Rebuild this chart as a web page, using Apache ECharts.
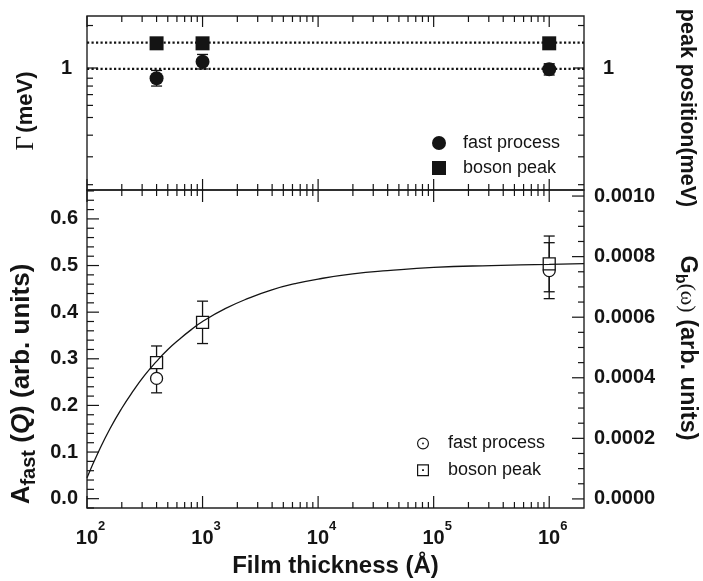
<!DOCTYPE html>
<html><head><meta charset="utf-8">
<script src="https://cdn.jsdelivr.net/npm/echarts@6.0.0/dist/echarts.min.js"></script>
<style>html,body{margin:0;padding:0;background:#fff}#c{width:703px;height:581px}</style>
</head><body><div id="c"></div>
<script>
// ---------- data ----------
const thicknessTop = [400, 1000, 1000000];
const fastGamma = [0.899, 1.067, 0.987];
const fastGammaLow = [0.83, 0.99, 0.93];
const fastGammaHigh = [0.975, 1.15, 1.045];
const bosonPeakPos = [1.29, 1.29, 1.29];
const guideLevels = [1.30, 0.99];
const guideSpan = [100, 2000000];

const fitThickness = [100, 126, 158, 200, 251, 316, 398, 501, 631, 794, 1000, 1585, 2512, 3981, 6310, 10000, 19953, 39811, 100000, 316228, 1000000, 2000000];
const fitA = [0.045, 0.101, 0.150, 0.194, 0.231, 0.265, 0.294, 0.320, 0.342, 0.362, 0.380, 0.408, 0.430, 0.448, 0.461, 0.471, 0.482, 0.489, 0.496, 0.500, 0.5025, 0.504];

const thicknessFast = [400, 1000000];
const fastA = [0.258, 0.489];
const fastAErr = [0.031, 0.06];
const thicknessBoson = [400, 1000, 1000000];
const bosonG = [0.000450, 0.000583, 0.000776];
const bosonGErr = [0.000055, 0.00007, 0.000092];

// ticks
const xMajorTicks = [100, 1000, 10000, 100000, 1000000];
const xMinorTicks = [];
[100, 1000, 10000, 100000].forEach(d => { for (let k = 2; k <= 9; k++) xMinorTicks.push(k * d); });
const gammaMajorTicks = [1];
const gammaMinorTicks = [1.55, 0.9, 0.83, 0.76, 0.68, 0.6, 0.5, 0.4, 0.3];
const aMajorTicks = [0, 0.1, 0.2, 0.3, 0.4, 0.5, 0.6];
const aMinorTicks = [];
for (let i = -1; i <= 33; i++) { if (i % 5 !== 0) aMinorTicks.push(+(i * 0.02).toFixed(2)); }
const gMajorTicks = [0, 0.0002, 0.0004, 0.0006, 0.0008, 0.001];
const gMinorTicks = [];
for (let i = 0; i <= 20; i++) { if (i % 4 !== 0) gMinorTicks.push(+(i * 0.00005).toFixed(5)); }

// ---------- style ----------
const INK = '#141414';
const SANS = 'Liberation Sans, Arial, Helvetica, sans-serif';
const SERIF = 'Liberation Serif, Times New Roman, serif';

const chart = echarts.init(document.getElementById('c'), null, {renderer: 'canvas'});

function tickRender(kind, len) {
  return function (params, api) {
    const cs = params.coordSys;
    const p = api.coord([api.value(0), api.value(1)]);
    const st = {stroke: INK, lineWidth: 1.2};
    if (kind === 'x') {
      return {type: 'group', children: [
        {type: 'line', shape: {x1: p[0], y1: cs.y, x2: p[0], y2: cs.y + len}, style: st},
        {type: 'line', shape: {x1: p[0], y1: cs.y + cs.height, x2: p[0], y2: cs.y + cs.height - len}, style: st}
      ]};
    }
    if (kind === 'left') return {type: 'line', shape: {x1: cs.x, y1: p[1], x2: cs.x + len, y2: p[1]}, style: st};
    return {type: 'line', shape: {x1: cs.x + cs.width, y1: p[1], x2: cs.x + cs.width - len, y2: p[1]}, style: st};
  };
}
function tickSeries(xi, yi, data, kind, len) {
  return {type: 'custom', xAxisIndex: xi, yAxisIndex: yi, data: data, renderItem: tickRender(kind, len),
    silent: true, z: 10, clip: false, encode: {x: 0, y: 1}, tooltip: {show: false}};
}
function errRender(params, api) {
  const x = api.value(0), lo = api.value(1), hi = api.value(2);
  const a = api.coord([x, lo]), b = api.coord([x, hi]);
  const w = 5.5, st = {stroke: INK, lineWidth: 1.3};
  return {type: 'group', children: [
    {type: 'line', shape: {x1: a[0], y1: a[1], x2: b[0], y2: b[1]}, style: st},
    {type: 'line', shape: {x1: a[0] - w, y1: a[1], x2: a[0] + w, y2: a[1]}, style: st},
    {type: 'line', shape: {x1: b[0] - w, y1: b[1], x2: b[0] + w, y2: b[1]}, style: st}
  ]};
}
function errSeries(xi, yi, xs, lo, hi) {
  return {type: 'custom', xAxisIndex: xi, yAxisIndex: yi, silent: true, z: 2, clip: false,
    data: xs.map((x, i) => [x, lo[i], hi[i]]), renderItem: errRender, encode: {x: 0, y: [1, 2]}};
}

const isPow10 = v => Math.abs(Math.log10(v) - Math.round(Math.log10(v))) < 1e-6;
const labelFont = {fontFamily: SANS, fontWeight: 'bold', fontSize: 20, color: INK};

const circleDot = 'path://M10,0A10,10,0,1,1,10,20A10,10,0,1,1,10,0ZM10,1.9A8.1,8.1,0,1,0,10,18.1A8.1,8.1,0,1,0,10,1.9ZM10,8.5A1.5,1.5,0,1,1,10,11.5A1.5,1.5,0,1,1,10,8.5Z';
const squareDot = 'path://M0,0H20V20H0ZM2,2V18H18V2ZM8.5,8.5H11.5V11.5H8.5Z';

const gammaMin = 0.284, gammaMax = 1.71;

const option = {
  animation: false,
  backgroundColor: '#fff',
  grid: [
    {left: 87, top: 16, width: 497, height: 174, show: true, borderColor: '#222', borderWidth: 1.4, backgroundColor: 'transparent'},
    {left: 87, top: 190, width: 497, height: 318, show: true, borderColor: '#222', borderWidth: 1.4, backgroundColor: 'transparent'}
  ],
  xAxis: [
    {type: 'log', logBase: 10, gridIndex: 0, min: 100, max: 2000000, axisLine: {show: false}, axisTick: {show: false},
      axisLabel: {show: false}, splitLine: {show: false}},
    {type: 'log', logBase: 10, gridIndex: 1, min: 100, max: 2000000, axisLine: {show: false}, axisTick: {show: false},
      splitLine: {show: false},
      axisLabel: {margin: 12, formatter: v => isPow10(v) ? '{b|10}{s|' + Math.round(Math.log10(v)) + '}' : '',
        rich: {b: {fontFamily: SANS, fontWeight: 'bold', fontSize: 20, color: INK, lineHeight: 28, verticalAlign: 'bottom', padding: [0, 0, 0, 7]},
               s: {fontFamily: SANS, fontWeight: 'bold', fontSize: 13, color: INK, lineHeight: 14, verticalAlign: 'top'}}}}
  ],
  yAxis: [
    {type: 'log', logBase: 10, gridIndex: 0, min: gammaMin, max: gammaMax, position: 'left', axisLine: {show: false}, axisTick: {show: false}, splitLine: {show: false},
      axisLabel: Object.assign({margin: 15, formatter: v => Math.abs(v - 1) < 1e-3 ? '1' : ''}, labelFont)},
    {type: 'log', logBase: 10, gridIndex: 0, min: gammaMin, max: gammaMax, position: 'right', axisLine: {show: false}, axisTick: {show: false}, splitLine: {show: false},
      axisLabel: Object.assign({margin: 19, formatter: v => Math.abs(v - 1) < 1e-3 ? '1' : ''}, labelFont)},
    {type: 'value', gridIndex: 1, min: -0.02, max: 0.662, position: 'left', axisLine: {show: false}, axisTick: {show: false}, splitLine: {show: false},
      axisLabel: Object.assign({margin: 9, formatter: v => Math.abs(v * 10 - Math.round(v * 10)) < 1e-6 && v > -0.001 ? v.toFixed(1) : ''}, labelFont)},
    {type: 'value', gridIndex: 1, min: -0.00003, max: 0.00102, position: 'right', axisLine: {show: false}, axisTick: {show: false}, splitLine: {show: false},
      axisLabel: Object.assign({margin: 10, formatter: v => Math.abs(v * 5000 - Math.round(v * 5000)) < 1e-6 && v > -1e-7 ? v.toFixed(4) : ''}, labelFont)}
  ],
  legend: [
    {orient: 'vertical', left: 432, top: 133, padding: 0, itemGap: 5, itemWidth: 14, itemHeight: 14, selectedMode: false,
      formatter: n => n.trim(),
      textStyle: {fontFamily: SANS, fontSize: 18, color: INK, lineHeight: 20, padding: [0, 0, 0, 12]},
      data: [{name: 'fast process', icon: 'circle', itemStyle: {color: INK, borderWidth: 0, opacity: 1}},
             {name: 'boson peak', icon: 'rect', itemStyle: {color: INK, borderWidth: 0, opacity: 1}}]},
    {orient: 'vertical', left: 417, top: 433, padding: 0, itemGap: 5.7, itemWidth: 12, itemHeight: 12, selectedMode: false,
      formatter: n => n.trim(),
      textStyle: {fontFamily: SANS, fontSize: 18, color: INK, lineHeight: 21, padding: [0, 0, 0, 14]},
      data: [{name: 'fast process ', icon: circleDot, itemStyle: {color: INK, borderWidth: 0, borderColor: 'transparent', opacity: 1}},
             {name: 'boson peak ', icon: squareDot, itemStyle: {color: INK, borderWidth: 0, borderColor: 'transparent', opacity: 1}}]}
  ],
  graphic: [
    {type: 'text', x: 26, y: 111, rotation: Math.PI / 2, style: {
      text: '{g|Γ} {m|(meV)}', align: 'center', verticalAlign: 'middle', textAlign: 'center', textVerticalAlign: 'middle',
      rich: {g: {fontFamily: SERIF, fontSize: 25, fill: INK, color: INK}, m: {fontFamily: SANS, fontWeight: 'bold', fontSize: 22, fill: INK, color: INK}}}},
    {type: 'text', x: 22, y: 384, rotation: Math.PI / 2, style: {
      text: '{a|A}{sub|fast}{a| (}{q|Q}{a|) (arb. units)}', align: 'center', verticalAlign: 'middle', textAlign: 'center', textVerticalAlign: 'middle',
      rich: {a: {fontFamily: SANS, fontWeight: 'bold', fontSize: 26, fill: INK, color: INK, lineHeight: 34, verticalAlign: 'middle'},
             q: {fontFamily: SANS, fontWeight: 'bold', fontStyle: 'italic', fontSize: 26, fill: INK, color: INK, lineHeight: 34, verticalAlign: 'middle'},
             sub: {fontFamily: SANS, fontWeight: 'bold', fontSize: 20, fill: INK, color: INK, lineHeight: 20, verticalAlign: 'bottom'}}}},
    {type: 'text', x: 687, y: 108, rotation: -Math.PI / 2, style: {
      text: 'peak position(meV)', align: 'center', verticalAlign: 'middle', textAlign: 'center', textVerticalAlign: 'middle',
      fontFamily: SANS, fontWeight: 'bold', fontSize: 21.5, fill: INK}},
    {type: 'text', x: 687, y: 348, rotation: -Math.PI / 2, style: {
      text: '{a|G}{sub|b}{w|(ω)}{a| (arb. units)}', align: 'center', verticalAlign: 'middle', textAlign: 'center', textVerticalAlign: 'middle',
      rich: {a: {fontFamily: SANS, fontWeight: 'bold', fontSize: 23.5, fill: INK, color: INK, lineHeight: 30, verticalAlign: 'middle'},
             w: {fontFamily: SERIF, fontSize: 22, fill: INK, color: INK, lineHeight: 30, verticalAlign: 'middle'},
             sub: {fontFamily: SANS, fontWeight: 'bold', fontSize: 16, fill: INK, color: INK, lineHeight: 16, verticalAlign: 'bottom'}}}},
    {type: 'text', x: 335.5, y: 566, style: {
      text: 'Film thickness (Å)', align: 'center', verticalAlign: 'middle', textAlign: 'center', textVerticalAlign: 'middle',
      fontFamily: SANS, fontWeight: 'bold', fontSize: 24, fill: INK}}
  ],
  series: [
    // top panel guides
    {type: 'line', xAxisIndex: 0, yAxisIndex: 0, data: guideSpan.map(x => [x, guideLevels[0]]), symbol: 'none', silent: true, z: 1,
      lineStyle: {color: INK, width: 2.2, type: [2.2, 2.3]}},
    {type: 'line', xAxisIndex: 0, yAxisIndex: 0, data: guideSpan.map(x => [x, guideLevels[1]]), symbol: 'none', silent: true, z: 1,
      lineStyle: {color: INK, width: 2.2, type: [2.2, 2.3]}},
    errSeries(0, 0, thicknessTop, fastGammaLow, fastGammaHigh),
    {name: 'fast process', type: 'scatter', xAxisIndex: 0, yAxisIndex: 0, symbol: 'circle', symbolSize: 14, z: 3,
      itemStyle: {color: INK, opacity: 1}, data: thicknessTop.map((x, i) => [x, fastGamma[i]])},
    {name: 'boson peak', type: 'scatter', xAxisIndex: 0, yAxisIndex: 1, symbol: 'rect', symbolSize: 14, z: 3,
      itemStyle: {color: INK, opacity: 1}, data: thicknessTop.map((x, i) => [x, bosonPeakPos[i]])},
    // bottom panel
    errSeries(1, 2, thicknessFast, fastA.map((v, i) => v - fastAErr[i]), fastA.map((v, i) => v + fastAErr[i])),
    errSeries(1, 3, thicknessBoson, bosonG.map((v, i) => v - bosonGErr[i]), bosonG.map((v, i) => v + bosonGErr[i])),
    {name: 'fast process ', type: 'scatter', xAxisIndex: 1, yAxisIndex: 2, symbol: 'circle', symbolSize: 12, z: 3,
      itemStyle: {color: '#fff', borderColor: INK, borderWidth: 1.3, opacity: 1}, data: thicknessFast.map((x, i) => [x, fastA[i]])},
    {name: 'boson peak ', type: 'scatter', xAxisIndex: 1, yAxisIndex: 3, symbol: 'rect', symbolSize: 12, z: 4,
      itemStyle: {color: '#fff', borderColor: INK, borderWidth: 1.3, opacity: 1}, data: thicknessBoson.map((x, i) => [x, bosonG[i]])},
    {type: 'line', xAxisIndex: 1, yAxisIndex: 2, smooth: true, symbol: 'none', silent: true, z: 6,
      lineStyle: {color: INK, width: 1.3}, data: fitThickness.map((x, i) => [x, fitA[i]])},
    // ticks
    tickSeries(0, 0, xMajorTicks.map(v => [v, 1]), 'x', 11),
    tickSeries(0, 0, xMinorTicks.map(v => [v, 1]), 'x', 6),
    tickSeries(1, 2, xMajorTicks.map(v => [v, 0.3]), 'x', 12),
    tickSeries(1, 2, xMinorTicks.map(v => [v, 0.3]), 'x', 6),
    tickSeries(0, 0, gammaMajorTicks.map(v => [1000, v]), 'left', 11),
    tickSeries(0, 0, gammaMinorTicks.map(v => [1000, v]), 'left', 6),
    tickSeries(0, 1, gammaMajorTicks.map(v => [1000, v]), 'right', 11),
    tickSeries(0, 1, gammaMinorTicks.map(v => [1000, v]), 'right', 6),
    tickSeries(1, 2, aMajorTicks.map(v => [1000, v]), 'left', 12),
    tickSeries(1, 2, aMinorTicks.map(v => [1000, v]), 'left', 7),
    tickSeries(1, 3, gMajorTicks.map(v => [1000, v]), 'right', 12),
    tickSeries(1, 3, gMinorTicks.map(v => [1000, v]), 'right', 6)
  ]
};
chart.setOption(option);
</script>
</body></html>
